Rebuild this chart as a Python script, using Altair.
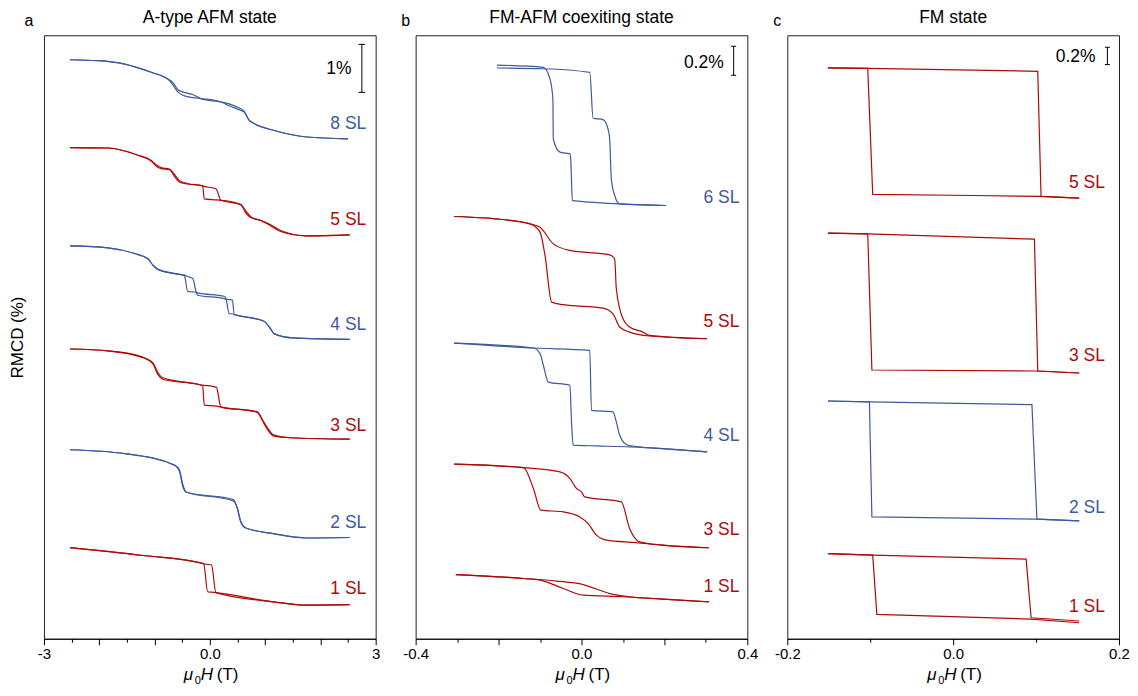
import altair as alt
import pandas as pd

BLUE = "#3D5B9C"
RED = "#AE0A0A"
FONT = "Liberation Sans"

# ---------------- Panel a : A-type AFM state (H in T, RMCD in %) ----------------
A8_H = [-2.53, -2.02, -1.54, -1.06, -0.76, -0.67, -0.58, -0.49, -0.30, -0.16, 0.20, 0.35, 0.50, 0.62, 0.71, 0.80, 1.15, 1.75, 2.50]
A8_UP = [12.07, 12.05, 11.98, 11.81, 11.67, 11.60, 11.45, 11.40, 11.34, 11.26, 11.19, 11.15, 11.08, 11.00, 10.81, 10.74, 10.60, 10.46, 10.42]
A8_DN = [12.07, 12.05, 11.98, 11.81, 11.67, 11.55, 11.40, 11.33, 11.28, 11.26, 11.19, 11.11, 11.04, 10.98, 10.81, 10.74, 10.60, 10.46, 10.42]

A5_H = [-2.53, -1.84, -1.30, -1.06, -0.97, -0.88, -0.73, -0.64, -0.55, -0.40, -0.13, -0.10, 0.11, 0.20, 0.56, 0.65, 0.74, 0.92, 1.10, 1.28, 1.75, 2.53]
A5_UP = [10.24, 10.23, 10.08, 9.97, 9.88, 9.82, 9.79, 9.68, 9.55, 9.49, 9.44, 9.43, 9.38, 9.14, 9.05, 8.92, 8.80, 8.72, 8.63, 8.51, 8.40, 8.42]
A5_DN = [10.24, 10.23, 10.08, 9.96, 9.85, 9.80, 9.78, 9.64, 9.52, 9.48, 9.44, 9.17, 9.15, 9.14, 9.05, 8.88, 8.78, 8.72, 8.61, 8.49, 8.40, 8.42]

A4_H = [-2.53, -1.84, -1.36, -1.12, -1.03, -0.94, -0.52, -0.46, -0.40, -0.31, -0.24, -0.22, 0.26, 0.29, 0.35, 0.41, 0.44, 0.50, 0.98, 1.10, 1.16, 1.51, 2.53]
A4_UP = [8.19, 8.15, 8.03, 7.92, 7.79, 7.70, 7.59, 7.58, 7.55, 7.51, 7.20, 7.16, 7.09, 7.08, 7.07, 7.06, 6.76, 6.74, 6.62, 6.46, 6.36, 6.27, 6.24]
A4_DN = [8.19, 8.15, 8.03, 7.92, 7.79, 7.70, 7.59, 7.57, 7.24, 7.23, 7.22, 7.21, 7.14, 7.10, 6.78, 6.77, 6.76, 6.74, 6.62, 6.46, 6.36, 6.27, 6.24]

A3_H = [-2.53, -1.84, -1.24, -1.03, -0.94, -0.85, -0.16, -0.13, -0.10, 0.12, 0.20, 0.86, 0.95, 1.04, 1.15, 1.45, 2.53]
A3_UP = [6.04, 6.00, 5.88, 5.75, 5.55, 5.44, 5.29, 5.28, 5.28, 5.24, 4.83, 4.73, 4.57, 4.40, 4.25, 4.19, 4.16]
A3_DN = [6.04, 6.00, 5.87, 5.73, 5.51, 5.41, 5.29, 5.28, 4.87, 4.85, 4.83, 4.72, 4.55, 4.37, 4.23, 4.19, 4.16]

A2_H = [-2.53, -1.54, -0.64, -0.55, -0.49, -0.43, 0.43, 0.50, 0.56, 0.65, 1.15, 1.75, 2.53]
A2_UP = [3.94, 3.86, 3.62, 3.52, 3.22, 3.06, 2.87, 2.72, 2.45, 2.31, 2.19, 2.10, 2.11]
A2_DN = [3.94, 3.86, 3.62, 3.49, 3.18, 3.06, 2.90, 2.70, 2.43, 2.31, 2.19, 2.10, 2.11]

A1_H = [-2.53, -1.24, -0.13, -0.11, -0.04, 0.03, 0.11, 1.15, 1.75, 2.53]
A1_UP = [1.90, 1.74, 1.57, 1.56, 1.55, 1.54, 0.96, 0.77, 0.70, 0.71]
A1_DN = [1.90, 1.74, 1.57, 1.56, 0.98, 0.97, 0.96, 0.77, 0.70, 0.71]

A_LABELS = ["8 SL", "5 SL", "4 SL", "3 SL", "2 SL", "1 SL"]
A_LABEL_Y = [10.73, 8.73, 6.54, 4.44, 2.42, 1.04]
A_COLORS = [BLUE, RED, BLUE, RED, BLUE, RED]

# ---------------- Panel b : FM-AFM coexisting state ----------------
B6_UP_H = [-0.204, -0.092, 0.020, 0.028, 0.052, 0.064, 0.068, 0.072, 0.080, 0.092, 0.204]
B6_UP_Y = [3.94, 3.935, 3.91, 3.593, 3.584, 3.519, 3.45, 3.175, 3.06, 3.002, 2.991]
B6_DN_H = [-0.204, -0.092, -0.076, -0.069, -0.068, -0.052, -0.028, -0.026, -0.022, 0.020, 0.092, 0.204]
B6_DN_Y = [3.96, 3.945, 3.864, 3.726, 3.45, 3.359, 3.347, 3.312, 3.026, 3.014, 3.002, 2.991]

B5_UP_H = [-0.307, -0.172, -0.124, -0.100, -0.068, -0.028, 0.068, 0.080, 0.084, 0.100, 0.116, 0.148, 0.164, 0.303]
B5_UP_Y = [2.915, 2.888, 2.864, 2.841, 2.726, 2.681, 2.650, 2.623, 2.416, 2.209, 2.152, 2.117, 2.094, 2.071]
B5_DN_H = [-0.307, -0.172, -0.124, -0.100, -0.088, -0.072, -0.044, 0.052, 0.076, 0.092, 0.116, 0.164, 0.303]
B5_DN_Y = [2.915, 2.888, 2.864, 2.807, 2.646, 2.324, 2.306, 2.283, 2.243, 2.152, 2.117, 2.090, 2.071]

B4_UP_H = [-0.307, -0.116, 0.020, 0.024, 0.076, 0.084, 0.092, 0.112, 0.196, 0.303]
B4_UP_Y = [2.041, 2.007, 1.991, 1.577, 1.566, 1.497, 1.405, 1.336, 1.312, 1.290]
B4_DN_H = [-0.307, -0.116, -0.100, -0.092, -0.080, -0.028, -0.024, -0.020, 0.036, 0.116, 0.196, 0.303]
B4_DN_Y = [2.041, 2.007, 1.968, 1.888, 1.772, 1.750, 1.497, 1.336, 1.331, 1.324, 1.312, 1.290]

B3_UP_H = [-0.307, -0.140, -0.052, -0.028, -0.012, 0.000, 0.008, 0.096, 0.116, 0.140, 0.196, 0.307]
B3_UP_Y = [1.205, 1.181, 1.152, 1.106, 1.037, 1.014, 0.979, 0.945, 0.761, 0.669, 0.646, 0.628]
B3_DN_H = [-0.307, -0.140, -0.116, -0.098, -0.044, -0.004, 0.016, 0.036, 0.060, 0.132, 0.196, 0.307]
B3_DN_Y = [1.205, 1.181, 1.037, 0.888, 0.876, 0.841, 0.795, 0.715, 0.681, 0.664, 0.646, 0.628]

B1_UP_H = [-0.303, -0.140, -0.060, 0.004, 0.068, 0.116, 0.196, 0.307]
B1_UP_Y = [0.443, 0.416, 0.398, 0.374, 0.312, 0.290, 0.274, 0.255]
B1_DN_H = [-0.303, -0.140, -0.100, -0.044, 0.004, 0.100, 0.196, 0.307]
B1_DN_Y = [0.443, 0.416, 0.405, 0.347, 0.301, 0.290, 0.274, 0.255]

B_LABELS = ["6 SL", "5 SL", "4 SL", "3 SL", "1 SL"]
B_LABEL_Y = [3.041, 2.186, 1.40, 0.752, 0.359]
B_COLORS = [BLUE, RED, BLUE, RED, RED]

# ---------------- Panel c : FM state ----------------
C5_UP_H = [-0.151, -0.103, 0.102, 0.106, 0.152]
C5_UP_Y = [6.605, 6.601, 6.566, 5.118, 5.098]
C5_DN_H = [-0.151, -0.103, -0.097, 0.024, 0.106, 0.152]
C5_DN_Y = [6.605, 6.601, 5.141, 5.129, 5.118, 5.098]

C3_UP_H = [-0.151, -0.103, 0.098, 0.102, 0.152]
C3_UP_Y = [4.694, 4.686, 4.624, 3.098, 3.075]
C3_DN_H = [-0.151, -0.103, -0.098, 0.102, 0.152]
C3_DN_Y = [4.694, 4.686, 3.110, 3.098, 3.075]

C2_UP_H = [-0.151, -0.101, 0.095, 0.101, 0.152]
C2_UP_Y = [2.751, 2.740, 2.709, 1.384, 1.364]
C2_DN_H = [-0.151, -0.101, -0.098, 0.101, 0.152]
C2_DN_Y = [2.751, 2.740, 1.410, 1.384, 1.364]

C1_UP_H = [-0.151, -0.097, 0.088, 0.094, 0.152]
C1_UP_Y = [0.986, 0.968, 0.921, 0.243, 0.205]
C1_DN_H = [-0.151, -0.097, -0.092, 0.094, 0.152]
C1_DN_Y = [0.986, 0.968, 0.281, 0.228, 0.185]

C_LABELS = ["5 SL", "3 SL", "2 SL", "1 SL"]
C_LABEL_Y = [5.272, 3.272, 1.514, 0.370]
C_COLORS = [RED, RED, BLUE, RED]

W, H = 332, 604


def curves_frame(curves):
    rows = []
    for name, color, hu, yu, hd, yd in curves:
        for i, (h, y) in enumerate(zip(hu, yu)):
            rows.append(dict(H=h, y=y, key=name + "-up", color=color, i=i))
        for i, (h, y) in enumerate(zip(hd, yd)):
            rows.append(dict(H=h, y=y, key=name + "-dn", color=color, i=i))
    return pd.DataFrame(rows)


def text_layer(txt, x, y, size=16, style="normal", align="left", baseline="alphabetic"):
    return alt.Chart(pd.DataFrame({"t": [txt]})).mark_text(
        font=FONT, fontSize=size, fontStyle=style, align=align, baseline=baseline, color="black"
    ).encode(x=alt.value(x), y=alt.value(y), text="t:N")


def panel(curves, labels, label_x, label_y, label_colors, xdom, ydom, xvals, major_test,
          label_expr, bar_x, bar_y0, bar_y1, cap, bar_text, bar_text_x, bar_text_y,
          title, letter, letter_dx, interp="monotone", ytitle=False):
    xaxis = alt.Axis(
        values=xvals, labelExpr=label_expr, title=None, grid=False,
        tickSize={"condition": {"test": major_test, "value": 6}, "value": 3.5},
        tickColor="black", domainColor="black", labelColor="black",
        labelFont=FONT, labelFontSize=15, labelPadding=2, labelFlush=False,
    )
    if ytitle:
        yaxis = alt.Axis(title="RMCD (%)", labels=False, ticks=False, domain=False, grid=False,
                         titleFont=FONT, titleFontSize=17, titleFontWeight="normal",
                         titleColor="black", titlePadding=17)
    else:
        yaxis = None
    xs = alt.Scale(domain=xdom, nice=False, zero=False)
    ys = alt.Scale(domain=ydom, nice=False, zero=False)
    X = alt.X("H:Q", scale=xs, axis=xaxis)
    Y = alt.Y("y:Q", scale=ys, axis=yaxis)

    lines = alt.Chart(curves_frame(curves)).mark_line(strokeWidth=1.2, interpolate=interp).encode(
        x=X, y=Y, detail="key:N", order=alt.Order("i:Q"),
        color=alt.Color("color:N", scale=None),
    )
    lab_df = pd.DataFrame({"H": [label_x] * len(labels), "y": label_y, "t": labels, "color": label_colors})
    lab = alt.Chart(lab_df).mark_text(font=FONT, fontSize=17.5, align="right", baseline="middle").encode(
        x=X, y=Y, text="t:N", color=alt.Color("color:N", scale=None)
    )
    bar = alt.Chart(pd.DataFrame({"H": [bar_x], "y": [bar_y0], "y2": [bar_y1]})).mark_rule(
        color="black", strokeWidth=1).encode(x=X, y=Y, y2="y2:Q")
    caps = alt.Chart(pd.DataFrame({"H": [bar_x - cap] * 2, "H2": [bar_x + cap] * 2,
                                   "y": [bar_y0, bar_y1]})).mark_rule(
        color="black", strokeWidth=1).encode(x=X, x2="H2:Q", y=Y)
    btxt = alt.Chart(pd.DataFrame({"H": [bar_text_x], "y": [bar_text_y], "t": [bar_text]})).mark_text(
        font=FONT, fontSize=17.5, align="right", baseline="middle", color="black").encode(x=X, y=Y, text="t:N")

    cx = W / 2
    extras = [
        text_layer(title, cx, -12, size=17.5, align="center"),
        text_layer(letter, letter_dx, -9, size=16, align="center"),
        text_layer("\u03bc", cx - 26, H + 41, size=17, style="italic"),
        text_layer("0", cx - 15, H + 45, size=11),
        text_layer("H", cx - 9, H + 41, size=17, style="italic"),
        text_layer("(T)", cx + 7, H + 41, size=17),
    ]
    return alt.layer(lines, lab, bar, caps, btxt, *extras).properties(width=W, height=H)


pa = panel(
    [("8", BLUE, A8_H, A8_UP, A8_H, A8_DN), ("5", RED, A5_H, A5_UP, A5_H, A5_DN),
     ("4", BLUE, A4_H, A4_UP, A4_H, A4_DN), ("3", RED, A3_H, A3_UP, A3_H, A3_DN),
     ("2", BLUE, A2_H, A2_UP, A2_H, A2_DN), ("1", RED, A1_H, A1_UP, A1_H, A1_DN)],
    A_LABELS, 2.83, A_LABEL_Y, A_COLORS, [-3, 3], [0, 12.58],
    [-3, -2.5, -2, -1.5, -1, -0.5, 0, 0.5, 1, 1.5, 2, 2.5, 3],
    "abs(datum.value - round(datum.value)) < 0.001",
    "datum.value == -3 ? '-3' : (datum.value == 3 ? '3' : (datum.value == 0 ? '0.0' : ''))",
    2.75, 11.39, 12.39, 0.06, "1%", 2.563, 11.88,
    "A-type AFM state", "a", -15, ytitle=True,
)

pb = panel(
    [("6", BLUE, B6_UP_H, B6_UP_Y, B6_DN_H, B6_DN_Y), ("5", RED, B5_UP_H, B5_UP_Y, B5_DN_H, B5_DN_Y),
     ("4", BLUE, B4_UP_H, B4_UP_Y, B4_DN_H, B4_DN_Y), ("3", RED, B3_UP_H, B3_UP_Y, B3_DN_H, B3_DN_Y),
     ("1", RED, B1_UP_H, B1_UP_Y, B1_DN_H, B1_DN_Y)],
    B_LABELS, 0.381, B_LABEL_Y, B_COLORS, [-0.4, 0.4], [0, 4.166],
    [-0.4, -0.3, -0.2, -0.1, 0, 0.1, 0.2, 0.3, 0.4],
    "abs(datum.value * 5 - round(datum.value * 5)) < 0.001",
    "datum.value < -0.39 ? '-0.4' : (datum.value > 0.39 ? '0.4' : (abs(datum.value) < 0.001 ? '0.0' : ''))",
    0.367, 3.890, 4.090, 0.006, "0.2%", 0.343, 3.974,
    "FM-AFM coexiting state", "b", -10,
)

pc = panel(
    [("5", RED, C5_UP_H, C5_UP_Y, C5_DN_H, C5_DN_Y), ("3", RED, C3_UP_H, C3_UP_Y, C3_DN_H, C3_DN_Y),
     ("2", BLUE, C2_UP_H, C2_UP_Y, C2_DN_H, C2_DN_Y), ("1", RED, C1_UP_H, C1_UP_Y, C1_DN_H, C1_DN_Y)],
    C_LABELS, 0.183, C_LABEL_Y, C_COLORS, [-0.2, 0.2], [0, 6.983],
    [-0.2, -0.1, 0, 0.1, 0.2],
    "abs(datum.value * 5 - round(datum.value * 5)) < 0.001",
    "datum.value < -0.19 ? '-0.2' : (datum.value > 0.19 ? '0.2' : (abs(datum.value) < 0.001 ? '0.0' : ''))",
    0.186, 6.644, 6.844, 0.003, "0.2%", 0.1717, 6.728,
    "FM state", "c", -10, interp="linear",
)

chart = alt.hconcat(pa, pb, pc, spacing=40).properties(
    bounds="flush", padding={"left": 0, "top": 0, "right": 0, "bottom": 0}
).configure_view(stroke="#222222", strokeWidth=1)

chart.save("out.html", embed_options={"renderer": "svg", "actions": False})
